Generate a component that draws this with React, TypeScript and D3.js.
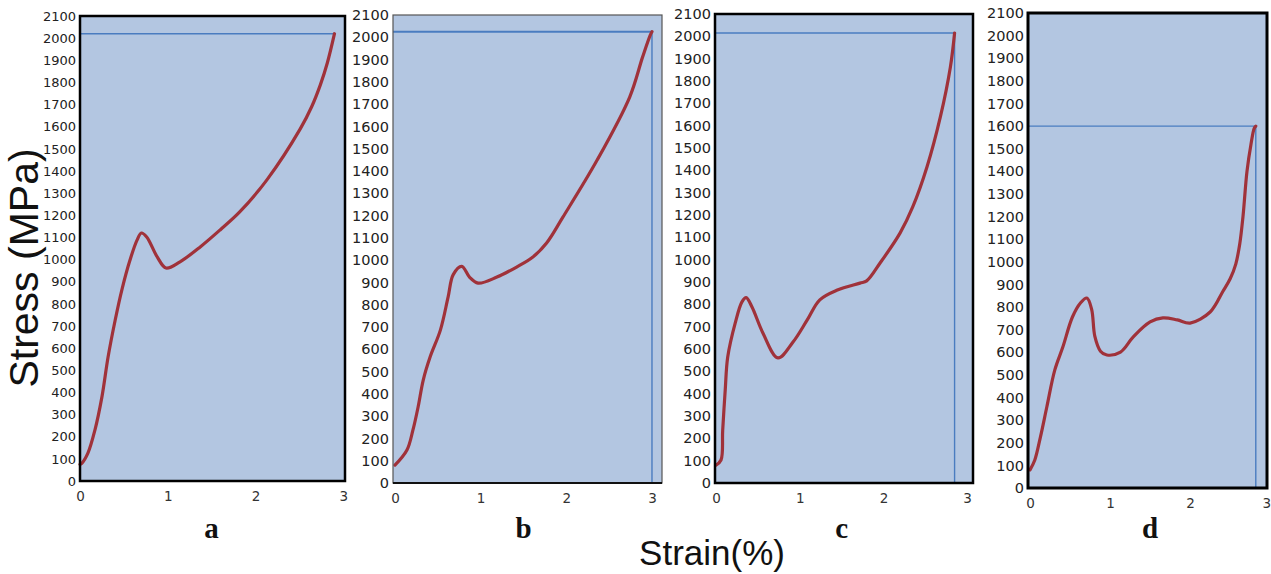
import { useRef, useEffect } from 'react'
import * as d3 from 'd3'

const width = 1271
const height = 574

const strainA = [0, 0.02, 0.09, 0.17, 0.25, 0.32, 0.4, 0.48, 0.57, 0.65, 0.7, 0.76, 0.88, 0.98, 1.14, 1.37, 1.6, 1.82, 2.13, 2.51, 2.64, 2.74, 2.82, 2.9]
const stressA = [75, 80, 126, 230, 380, 560, 725, 868, 998, 1088, 1120, 1102, 1012, 962, 990, 1057, 1135, 1215, 1360, 1590, 1690, 1790, 1890, 2020]

const strainB = [0, 0.14, 0.21, 0.27, 0.33, 0.41, 0.53, 0.62, 0.68, 0.78, 0.87, 0.97, 1.19, 1.42, 1.61, 1.77, 1.96, 2.36, 2.74, 2.89, 2.98, 3.0]
const stressB = [80, 148, 238, 341, 462, 565, 686, 834, 935, 972, 924, 897, 924, 969, 1014, 1077, 1193, 1449, 1732, 1911, 2010, 2025]

const strainC = [0, 0.06, 0.08, 0.11, 0.14, 0.23, 0.31, 0.36, 0.43, 0.56, 0.74, 0.92, 1.09, 1.24, 1.45, 1.72, 1.8, 1.96, 2.2, 2.35, 2.52, 2.68, 2.8, 2.85]
const stressC = [80, 103, 237, 416, 564, 717, 811, 830, 788, 672, 560, 631, 730, 820, 864, 895, 905, 985, 1120, 1236, 1415, 1639, 1863, 2015]

const strainD = [0, 0.06, 0.13, 0.21, 0.31, 0.41, 0.53, 0.63, 0.71, 0.77, 0.81, 0.88, 0.96, 1.13, 1.29, 1.5, 1.66, 1.84, 2.0, 2.25, 2.41, 2.5, 2.57, 2.62, 2.66, 2.71, 2.76, 2.8, 2.82]
const stressD = [80, 124, 225, 358, 522, 623, 756, 818, 840, 790, 670, 605, 588, 601, 668, 734, 752, 743, 729, 778, 870, 925, 990, 1080, 1200, 1400, 1520, 1590, 1600]

const panelLabels = ['a', 'b', 'c', 'd']
const breakStrain = [2.9, 3.0, 2.85, 2.82]
const breakStress = [2020, 2025, 2015, 1600]
const yTicks = [0, 100, 200, 300, 400, 500, 600, 700, 800, 900, 1000, 1100, 1200, 1300, 1400, 1500, 1600, 1700, 1800, 1900, 2000, 2100]
const xTicks = [0, 1, 2, 3]

const panels = [
  { strain: strainA, stress: stressA, left: 80, top: 16, right: 345, bottom: 481, xMin: 0, xMax: 3.02, frame: 'black', frameW: 2.5, font: 13, vline: false },
  { strain: strainB, stress: stressB, left: 393, top: 15, right: 662, bottom: 483, xMin: -0.023, xMax: 3.117, frame: '#555', frameW: 1.2, font: 14.5, vline: true },
  { strain: strainC, stress: stressC, left: 715, top: 14, right: 973, bottom: 483, xMin: -0.012, xMax: 3.07, frame: 'black', frameW: 2.5, font: 14.5, vline: true },
  { strain: strainD, stress: stressD, left: 1028, top: 13, right: 1267, bottom: 488, xMin: -0.025, xMax: 2.96, frame: 'black', frameW: 3, font: 14.5, vline: true },
]

const App = () => {
  const svgRef = useRef<SVGSVGElement>(null)

  useEffect(() => {
    const svg = d3.select(svgRef.current)
    svg.selectAll('*').remove()

    panels.forEach((p, i) => {
      const x = d3.scaleLinear().domain([p.xMin, p.xMax]).range([p.left, p.right])
      const y = d3.scaleLinear().domain([0, 2100]).range([p.bottom, p.top])
      const g = svg.append('g')

      g.append('rect')
        .attr('x', p.left).attr('y', p.top)
        .attr('width', p.right - p.left).attr('height', p.bottom - p.top)
        .attr('fill', '#b3c6e1')

      // break-point reference lines
      const bx = x(breakStrain[i])
      const by = y(breakStress[i])
      g.append('line')
        .attr('x1', p.left).attr('x2', bx).attr('y1', by).attr('y2', by)
        .attr('stroke', '#4a7cc0').attr('stroke-width', i === 1 ? 2 : 1.4)
      if (p.vline) {
        g.append('line')
          .attr('x1', bx).attr('x2', bx).attr('y1', by).attr('y2', p.bottom)
          .attr('stroke', '#4a7cc0').attr('stroke-width', 1.4)
      }

      const curve = d3.line<number>()
        .x((d, k) => x(p.strain[k]))
        .y(d => y(d))
        .curve(d3.curveCatmullRom.alpha(0.5))

      g.append('path')
        .attr('d', curve(p.stress))
        .attr('fill', 'none')
        .attr('stroke', '#a0323a')
        .attr('stroke-width', 3.2)
        .attr('stroke-linejoin', 'round')
        .attr('stroke-linecap', 'round')

      // frame
      g.append('rect')
        .attr('x', p.left).attr('y', p.top)
        .attr('width', p.right - p.left).attr('height', p.bottom - p.top)
        .attr('fill', 'none')
        .attr('stroke', p.frame).attr('stroke-width', p.frameW)
      if (i === 1) {
        g.append('line')
          .attr('x1', p.left).attr('x2', p.right).attr('y1', p.bottom).attr('y2', p.bottom)
          .attr('stroke', '#111').attr('stroke-width', 2.2)
      }

      const yAxis = g.append('g')
        .attr('transform', `translate(${p.left - 1},0)`)
        .call(d3.axisLeft(y).tickValues(yTicks).tickSize(0).tickPadding(3).tickFormat(d3.format('d')))
      yAxis.select('.domain').remove()
      yAxis.selectAll('text')
        .attr('font-family', 'DejaVu Sans')
        .attr('font-size', p.font)
        .attr('fill', '#222')

      const xAxis = g.append('g')
        .attr('transform', `translate(0,${p.bottom})`)
        .call(d3.axisBottom(x).tickValues(xTicks).tickSize(0).tickPadding(10).tickFormat(d3.format('d')))
      xAxis.select('.domain').remove()
      xAxis.selectAll('text')
        .attr('font-family', 'DejaVu Sans')
        .attr('font-size', 13.5)
        .attr('fill', '#333')
      // keep the last label of panel d inside the page
      if (i === 3) {
        xAxis.selectAll<SVGTextElement, number>('text')
          .filter(d => d === 3)
          .attr('dx', -4)
      }

      g.append('text')
        .attr('x', x(1.5))
        .attr('y', 538)
        .attr('text-anchor', 'middle')
        .attr('font-family', 'Liberation Serif')
        .attr('font-weight', 'bold')
        .attr('font-size', 29)
        .attr('fill', '#111')
        .text(panelLabels[i])
    })

    svg.append('text')
      .attr('transform', 'translate(38,268) rotate(-90)')
      .attr('text-anchor', 'middle')
      .attr('font-family', 'Liberation Sans')
      .attr('font-size', 41)
      .attr('fill', '#111')
      .text('Stress (MPa)')

    svg.append('text')
      .attr('x', 712)
      .attr('y', 565)
      .attr('text-anchor', 'middle')
      .attr('font-family', 'Liberation Sans')
      .attr('font-size', 35)
      .attr('fill', '#111')
      .text('Strain(%)')
  }, [])

  return (
    <svg ref={svgRef} width={width} height={height}
      style={{ position: 'absolute', left: 0, top: 0, background: 'white' }} />
  )
}

export default App
